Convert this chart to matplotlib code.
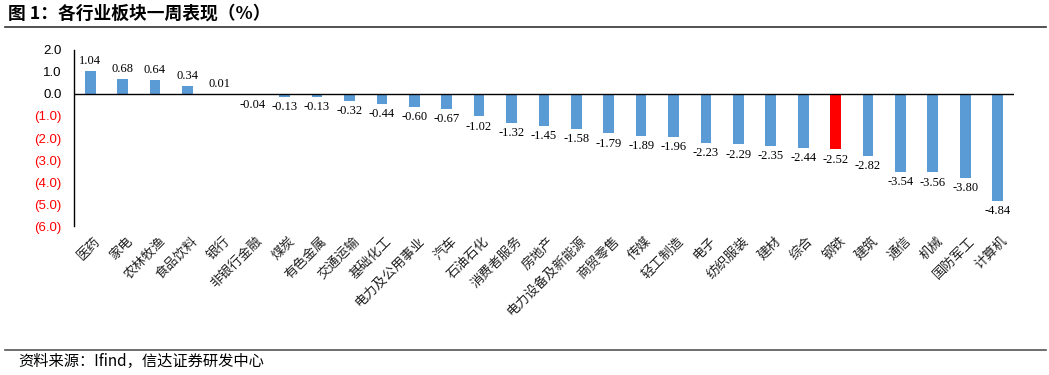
import matplotlib.pyplot as plt
import numpy as np
from matplotlib.lines import Line2D
from matplotlib.transforms import ScaledTranslation

plt.rcParams['font.family'] = ['Noto Sans CJK SC', 'DejaVu Sans']

industries = ['医药', '家电', '农林牧渔', '食品饮料', '银行', '非银行金融', '煤炭',
              '有色金属', '交通运输', '基础化工', '电力及公用事业', '汽车', '石油石化',
              '消费者服务', '房地产', '电力设备及新能源', '商贸零售', '传媒', '轻工制造',
              '电子', '纺织服装', '建材', '综合', '钢铁', '建筑', '通信', '机械',
              '国防军工', '计算机']
weekly_pct = [1.04, 0.68, 0.64, 0.34, 0.01, -0.04, -0.13, -0.13, -0.32, -0.44,
              -0.60, -0.67, -1.02, -1.32, -1.45, -1.58, -1.79, -1.89, -1.96,
              -2.23, -2.29, -2.35, -2.44, -2.52, -2.82, -3.54, -3.56, -3.80, -4.84]
highlight = '钢铁'
y_ticks = [2, 1, 0, -1, -2, -3, -4, -5, -6]

fig = plt.figure(figsize=(10.49, 3.75), dpi=100)
ax = fig.add_axes([0.0705, 0.397, 0.896, 0.47])

x = np.arange(len(industries))
colors = ['#FF0000' if name == highlight else '#5B9BD5' for name in industries]
ax.bar(x, weekly_pct, width=0.33, color=colors)

for xi, v in zip(x, weekly_pct):
    if v >= 0:
        ax.annotate(f'{v:.2f}', (xi, v), xytext=(0, 3), textcoords='offset points',
                    ha='center', va='bottom', fontsize=9, family='Liberation Serif')
    else:
        ax.annotate(f'{v:.2f}', (xi, v), xytext=(0, -3), textcoords='offset points',
                    ha='center', va='top', fontsize=9, family='Liberation Serif')

ax.axhline(0, color='black', linewidth=1)
ax.set_xlim(-0.5, len(industries) - 0.5)
ax.set_ylim(-6, 2)
ax.set_yticks(y_ticks)
ax.set_yticklabels([f'{t:.1f}' if t >= 0 else f'({-t:.1f})' for t in y_ticks],
                   family='Liberation Sans', fontsize=9.5)
for lbl, t in zip(ax.get_yticklabels(), y_ticks):
    lbl.set_color('black' if t >= 0 else 'red')
ax.tick_params(axis='y', length=0, pad=9)

ax.set_xticks(x)
ax.set_xticklabels(industries, rotation=45, ha='right', rotation_mode='anchor',
                   fontsize=9.5, color='#222222')
ax.tick_params(axis='x', length=0, pad=6)
shift = ScaledTranslation(2.5 / 72, 0, fig.dpi_scale_trans)
for lbl in ax.get_xticklabels():
    lbl.set_transform(lbl.get_transform() + shift)

for s in ('top', 'right', 'bottom'):
    ax.spines[s].set_visible(False)
ax.spines['left'].set_linewidth(1)

fig.text(0.008, 0.963, '图 1：各行业板块一周表现（%）', fontsize=12.8,
         fontweight='bold', ha='left', va='center')
fig.add_artist(Line2D([0.005, 0.997], [0.928, 0.928], color='#333333', linewidth=1.2))
fig.add_artist(Line2D([0.005, 0.997], [0.068, 0.068], color='#555555', linewidth=1.2))
fig.text(0.017, 0.037, '资料来源：Ifind，信达证券研发中心', fontsize=11,
         ha='left', va='center')

fig.savefig('out.png', dpi=100)
